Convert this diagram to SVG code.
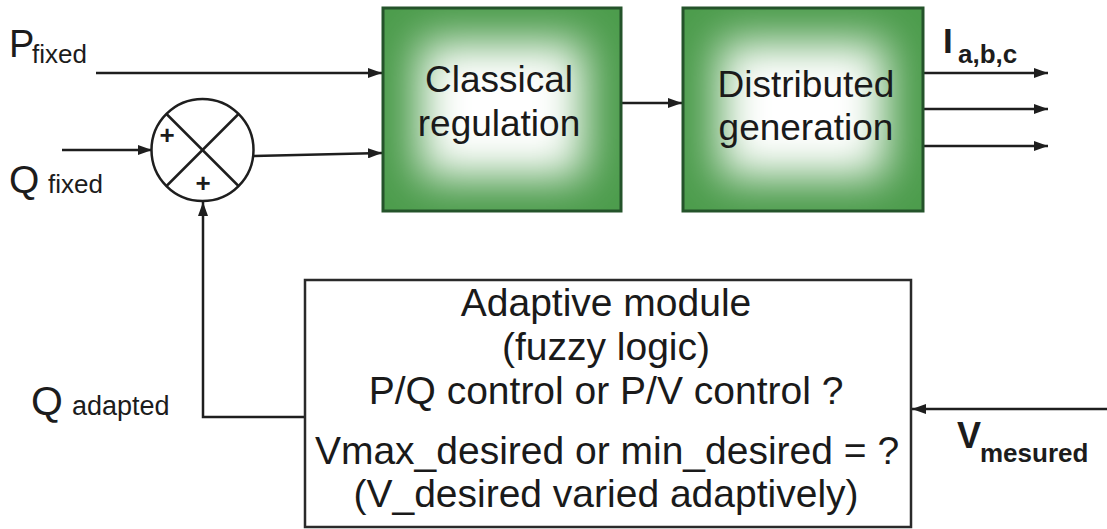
<svg xmlns="http://www.w3.org/2000/svg" width="1107" height="529" viewBox="0 0 1107 529">
  <style>
    .lbl { font-family: "Liberation Sans", Arial, sans-serif; fill: #1c1c1c; }
    .blk { font-family: "Liberation Sans", Arial, sans-serif; fill: #1a1a1a; font-size: 37px; text-anchor: middle; }
    .mod { font-family: "Liberation Sans", Arial, sans-serif; fill: #1a1a1a; font-size: 39px; text-anchor: middle; }
    .wire { stroke: #1e1e1e; stroke-width: 2.5; fill: none; }
    .arr { stroke: #1e1e1e; stroke-width: 2.5; fill: none; marker-end: url(#head); }
    .greenbox { fill: #4c9c4c; }
    .greenedge { fill: none; stroke: #24532a; stroke-width: 3; }
  </style>
  <defs>
    <marker id="head" viewBox="0 0 14 10" refX="14" refY="5" markerWidth="14" markerHeight="10" markerUnits="userSpaceOnUse" orient="auto">
      <path d="M0,0 L14,5 L0,10 Z" fill="#1e1e1e"/>
    </marker>
    <filter id="soft" x="0" y="0" width="1107" height="529" filterUnits="userSpaceOnUse">
      <feGaussianBlur stdDeviation="22"/>
    </filter>
    <clipPath id="clipReg"><rect x="383" y="8" width="238" height="203"/></clipPath>
    <clipPath id="clipGen"><rect x="683" y="8" width="240" height="203"/></clipPath>
  </defs>

  <rect width="1107" height="529" fill="#ffffff"/>

  <!-- connectors -->
  <g id="connectors">
    <line class="arr" x1="96" y1="73" x2="382" y2="73"/>
    <line class="arr" x1="62" y1="150" x2="152" y2="150"/>
    <line class="arr" x1="254" y1="156" x2="382" y2="153"/>
    <line class="arr" x1="621" y1="103" x2="682" y2="103"/>
    <line class="arr" x1="923" y1="73" x2="1048" y2="73"/>
    <line class="arr" x1="923" y1="109" x2="1048" y2="109"/>
    <line class="arr" x1="923" y1="146" x2="1048" y2="146"/>
    <polyline class="arr" points="305,417 203,417 203,202"/>
    <line class="arr" x1="1107" y1="409" x2="912" y2="409"/>
  </g>

  <!-- summing junction -->
  <g id="sum">
    <circle class="wire" cx="202.5" cy="150" r="51"/>
    <line class="wire" x1="166.5" y1="114" x2="238.5" y2="186"/>
    <line class="wire" x1="238.5" y1="114" x2="166.5" y2="186"/>
    <text class="lbl" x="167" y="144" font-size="26" font-weight="bold" text-anchor="middle">+</text>
    <text class="lbl" x="203" y="192" font-size="26" font-weight="bold" text-anchor="middle">+</text>
  </g>

  <!-- Classical regulation block -->
  <g id="regulation">
    <rect class="greenbox" x="383" y="8" width="238" height="203"/>
    <g clip-path="url(#clipReg)">
      <rect x="420" y="42" width="164" height="135" fill="#ffffff" filter="url(#soft)"/>
    </g>
    <rect class="greenedge" x="383" y="8" width="238" height="203"/>
    <text class="blk" x="499" y="92">Classical</text>
    <text class="blk" x="499" y="136">regulation</text>
  </g>

  <!-- Distributed generation block -->
  <g id="generation">
    <rect class="greenbox" x="683" y="8" width="240" height="203"/>
    <g clip-path="url(#clipGen)">
      <rect x="720" y="42" width="166" height="135" fill="#ffffff" filter="url(#soft)"/>
    </g>
    <rect class="greenedge" x="683" y="8" width="240" height="203"/>
    <text class="blk" x="806" y="97">Distributed</text>
    <text class="blk" x="806" y="140">generation</text>
  </g>

  <!-- Adaptive module block -->
  <g id="adaptive">
    <rect x="305" y="280" width="606" height="247" fill="#ffffff" stroke="#2a2a2a" stroke-width="2.5"/>
    <text class="mod" x="606" y="316" font-size="38">Adaptive module</text>
    <text class="mod" x="606" y="360" font-size="38">(fuzzy logic)</text>
    <text class="mod" x="606" y="404">P/Q control or P/V control ?</text>
    <text class="mod" x="607" y="464" font-size="40">Vmax_desired or min_desired = ?</text>
    <text class="mod" x="606" y="507">(V_desired varied adaptively)</text>
  </g>

  <!-- signal labels -->
  <g id="labels">
    <text class="lbl" x="9" y="57" font-size="38">P</text>
    <text class="lbl" x="32" y="63" font-size="26">fixed</text>
    <text class="lbl" x="9" y="193" font-size="39">Q</text>
    <text class="lbl" x="48" y="193" font-size="26">fixed</text>
    <text class="lbl" x="31" y="415" font-size="41">Q</text>
    <text class="lbl" x="72" y="415" font-size="27">adapted</text>
    <text class="lbl" x="943" y="53" font-size="35" font-weight="bold">I</text>
    <text class="lbl" x="958" y="63" font-size="26" font-weight="bold">a,b,c</text>
    <text class="lbl" x="957" y="448" font-size="36" font-weight="bold">V</text>
    <text class="lbl" x="980" y="462" font-size="26" font-weight="bold">mesured</text>
  </g>
</svg>
